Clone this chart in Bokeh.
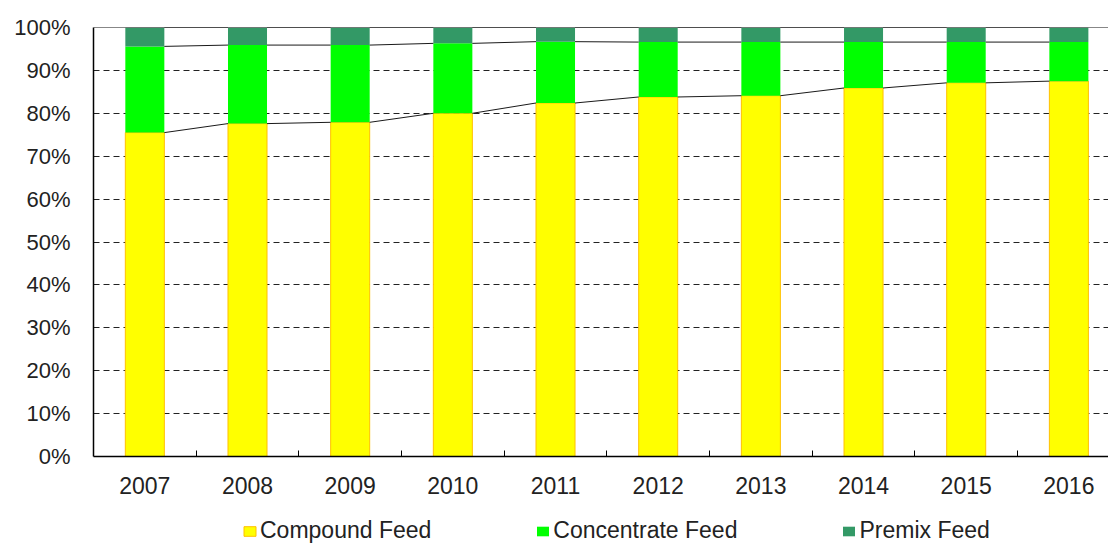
from bokeh.plotting import figure
from bokeh.models import (FixedTicker, PrintfTickFormatter, Legend, LegendItem, Span, ColumnDataSource)
from bokeh.layouts import column
from bokeh.embed import file_html
from bokeh.resources import INLINE
import numpy as np

years = ["2007", "2008", "2009", "2010", "2011", "2012", "2013", "2014", "2015", "2016"]
compound = [75.5, 77.6, 77.9, 80.0, 82.4, 83.8, 84.1, 85.9, 87.1, 87.5]
concentrate = [20.1, 18.3, 18.0, 16.3, 14.3, 12.8, 12.5, 10.7, 9.5, 9.1]
premix = [4.4, 4.1, 4.1, 3.7, 3.3, 3.4, 3.4, 3.4, 3.4, 3.4]
series_names = ["Compound Feed", "Concentrate Feed", "Premix Feed"]
y_ticks = [0, 10, 20, 30, 40, 50, 60, 70, 80, 90, 100]

FONT = "Liberation Sans"
TXT = "#222222"
BW = 0.38
COLORS = ["#FFFF00", "#00FF00", "#339966"]
LINES = ["#FFC000", None, None]

x = np.arange(len(years), dtype=float)
c1 = np.array(compound)
c2 = c1 + np.array(concentrate)
c3 = c2 + np.array(premix)

p = figure(width=1108, height=510, output_backend="svg", toolbar_location=None,
           x_range=(-0.5, 9.386), y_range=(0, 100),
           min_border_left=93, min_border_right=0, min_border_top=27, min_border_bottom=54)
p.outline_line_color = None
p.background_fill_color = "white"
p.border_fill_color = "white"

src = ColumnDataSource(dict(x=x, c1=c1, c2=c2, c3=c3))
p.vbar(x="x", bottom=0, top="c1", width=BW, source=src, fill_color=COLORS[0], line_color=LINES[0], line_width=1)
p.vbar(x="x", bottom="c1", top="c2", width=BW, source=src, fill_color=COLORS[1], line_color=LINES[1])
p.vbar(x="x", bottom="c2", top="c3", width=BW, source=src, fill_color=COLORS[2], line_color=LINES[2])

# series lines
for cum in (c1, c2, c3):
    p.segment(x0=x[:-1] + BW / 2, y0=cum[:-1], x1=x[1:] - BW / 2, y1=cum[1:], line_color="#1a1a1a", line_width=1)

p.add_layout(Span(location=100, dimension="width", line_color="#111111", line_width=1.2))

# y axis
p.yaxis.ticker = FixedTicker(ticks=y_ticks)
p.yaxis.formatter = PrintfTickFormatter(format="%d%%")
p.yaxis.major_tick_in = 0
p.yaxis.major_tick_out = 0
p.yaxis.minor_tick_in = 0
p.yaxis.minor_tick_out = 0
p.yaxis.axis_line_color = "black"
p.yaxis.axis_line_width = 1.5
p.yaxis.major_label_standoff = 23
p.yaxis.major_label_text_font = FONT
p.yaxis.major_label_text_font_size = "22px"
p.yaxis.major_label_text_color = TXT

# x axis
p.xaxis.ticker = FixedTicker(ticks=list(x), minor_ticks=list(x[:-1] + 0.5))
p.xaxis.major_label_overrides = {i: y for i, y in enumerate(years)}
p.xaxis.major_tick_in = 0
p.xaxis.major_tick_out = 0
p.xaxis.minor_tick_in = 6
p.xaxis.minor_tick_out = 0
p.xaxis.minor_tick_line_color = "black"
p.xaxis.axis_line_color = "black"
p.xaxis.axis_line_width = 1.5
p.xaxis.major_label_standoff = 20
p.xaxis.major_label_text_font = FONT
p.xaxis.major_label_text_font_size = "23px"
p.xaxis.major_label_text_color = TXT

p.xgrid.grid_line_color = None
p.ygrid.ticker = FixedTicker(ticks=y_ticks[:-1])
p.ygrid.grid_line_color = "#222222"
p.ygrid.grid_line_dash = "6 4"
p.ygrid.grid_line_width = 1

# legend strip (frames are aligned with the chart above)
q = figure(width=1108, height=33, output_backend="svg", toolbar_location=None,
           x_range=(0, 1), y_range=(0, 1), x_axis_location=None, y_axis_location=None,
           min_border_left=93, min_border_right=0, min_border_top=0, min_border_bottom=0)
q.outline_line_color = None
q.xgrid.grid_line_color = None
q.ygrid.grid_line_color = None
items = []
for name, col, lc in zip(series_names, COLORS, LINES):
    r = q.vbar(x=[np.nan], top=[np.nan], width=0.1, fill_color=col, line_color=lc, line_width=1)
    items.append(LegendItem(label=name, renderers=[r]))
legend = Legend(items=items, orientation="horizontal", location=(149, -1),
                spacing=104, padding=0, margin=0, label_standoff=3,
                glyph_width=15, glyph_height=12,
                label_text_font=FONT, label_text_font_size="23px", label_text_color=TXT,
                border_line_color=None, background_fill_alpha=0)
q.add_layout(legend, "center")

open("out.html", "w").write(file_html(column(p, q, spacing=0), INLINE))
